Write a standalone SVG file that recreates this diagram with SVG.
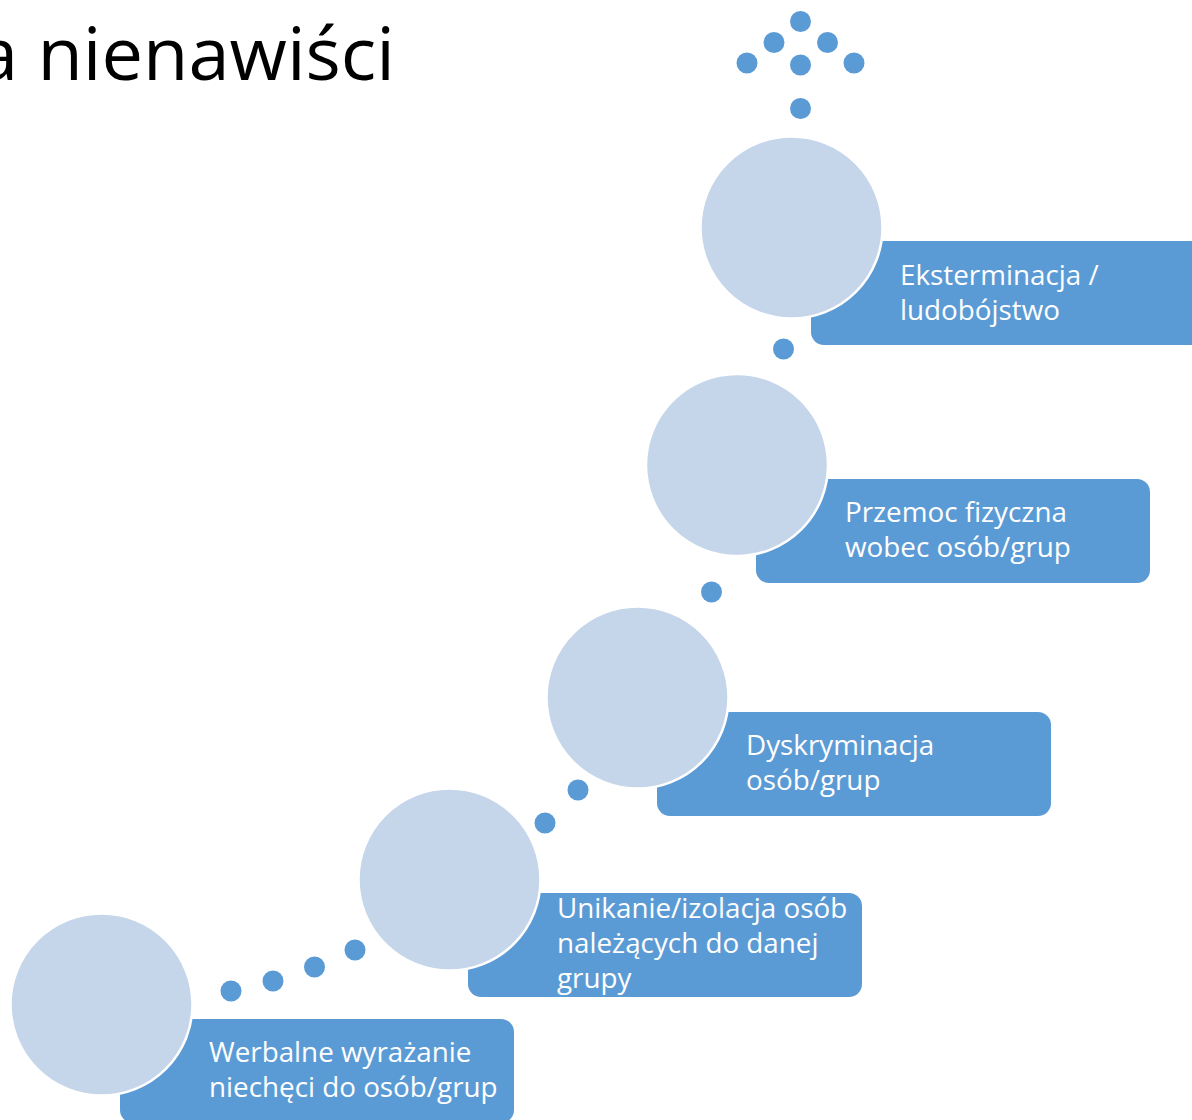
<svg xmlns="http://www.w3.org/2000/svg" width="1192" height="1120" viewBox="0 0 1192 1120">
  <style>
    .title { font-family: "Open Sans", "Noto Sans", "Liberation Sans", sans-serif; font-size: 74px; fill: #000000; }
    .box { fill: #5B9BD5; }
    .disc { fill: #C5D5EA; stroke: #FFFFFF; stroke-width: 2.5; }
    .dot { fill: #5B9BD5; }
    .label { font-family: "Open Sans", "Noto Sans", "Liberation Sans", sans-serif; font-size: 27.8px; fill: #FFFFFF; }
  </style>
  <rect width="1192" height="1120" fill="#FFFFFF"/>

  <text class="title" x="395" y="80" text-anchor="end">a nienawiści</text>

  <!-- dotted path linking the steps -->
  <g id="connectors">
    <circle class="dot" cx="231" cy="991" r="10.5"/>
    <circle class="dot" cx="273" cy="981" r="10.5"/>
    <circle class="dot" cx="314.5" cy="967" r="10.5"/>
    <circle class="dot" cx="355" cy="950" r="10.5"/>
    <circle class="dot" cx="545" cy="823" r="10.5"/>
    <circle class="dot" cx="578" cy="790" r="10.5"/>
    <circle class="dot" cx="711.5" cy="592" r="10.5"/>
    <circle class="dot" cx="783.5" cy="349" r="10.5"/>
    <circle class="dot" cx="800.5" cy="108.5" r="10.5"/>
    <circle class="dot" cx="747" cy="63" r="10.5"/>
    <circle class="dot" cx="800.5" cy="65" r="10.5"/>
    <circle class="dot" cx="854" cy="63" r="10.5"/>
    <circle class="dot" cx="774" cy="42.5" r="10.5"/>
    <circle class="dot" cx="827.5" cy="42.5" r="10.5"/>
    <circle class="dot" cx="800.5" cy="21.5" r="10.5"/>
  </g>

  <g id="step1">
    <rect class="box" x="120" y="1019" width="394" height="104" rx="13"/>
    <circle class="disc" cx="101.5" cy="1004.5" r="91"/>
    <text class="label"><tspan x="209" y="1062">Werbalne wyrażanie</tspan><tspan x="209" y="1097">niechęci do osób/grup</tspan></text>
  </g>

  <g id="step2">
    <rect class="box" x="468" y="893" width="394" height="104" rx="13"/>
    <circle class="disc" cx="449.5" cy="879.5" r="91"/>
    <text class="label"><tspan x="557" y="918">Unikanie/izolacja osób</tspan><tspan x="557" y="953">należących do danej</tspan><tspan x="557" y="988">grupy</tspan></text>
  </g>

  <g id="step3">
    <rect class="box" x="657" y="712" width="394" height="104" rx="13"/>
    <circle class="disc" cx="637.5" cy="697.5" r="91"/>
    <text class="label"><tspan x="746" y="755">Dyskryminacja</tspan><tspan x="746" y="790">osób/grup</tspan></text>
  </g>

  <g id="step4">
    <rect class="box" x="756" y="479" width="394" height="104" rx="13"/>
    <circle class="disc" cx="737" cy="465" r="91"/>
    <text class="label"><tspan x="845" y="522">Przemoc fizyczna</tspan><tspan x="845" y="557">wobec osób/grup</tspan></text>
  </g>

  <g id="step5">
    <rect class="box" x="811" y="241" width="394" height="104" rx="13"/>
    <circle class="disc" cx="791.5" cy="227.5" r="91"/>
    <text class="label"><tspan x="900" y="285">Eksterminacja /</tspan><tspan x="900" y="320">ludobójstwo</tspan></text>
  </g>
</svg>
